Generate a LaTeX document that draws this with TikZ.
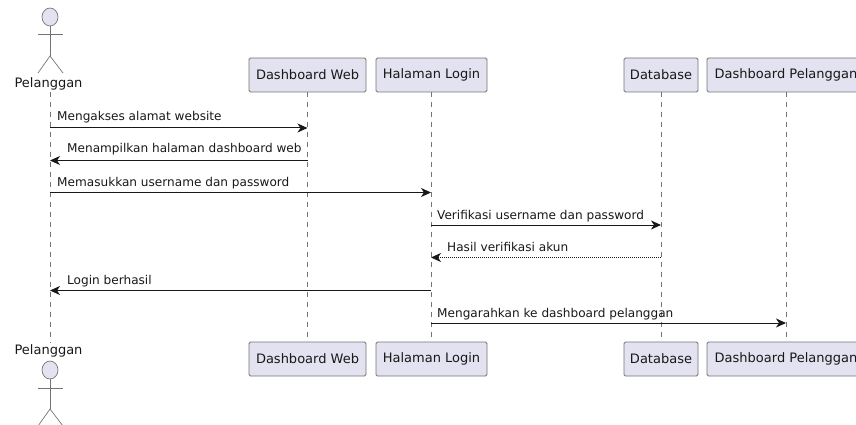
\documentclass[tikz,border=0pt]{standalone}
\usepackage{fontspec}
\setmainfont{DejaVu Sans}
\usetikzlibrary{arrows.meta, shapes.geometric}
\definecolor{umlfill}{RGB}{226, 226, 240}
\definecolor{umlline}{RGB}{24, 24, 24}
\tikzset{
    partbox/.style={draw=umlline!60, fill=umlfill, rounded corners=1.5pt, line width=0.8pt, minimum height=34pt, inner xsep=0pt, inner ysep=0pt},
    lifeline/.style={draw=umlline!60, dash pattern=on 5pt off 5pt, line width=0.7pt},
    msg/.style={-{Stealth[length=10pt, width=9pt, inset=3pt]}, draw=umlline, line width=1pt},
    reply/.style={msg, densely dotted},
    msgtext/.style={text=umlline, font=\fontsize{12.1}{14}\selectfont, anchor=base west, inner sep=0pt},
    acttext/.style={text=umlline, font=\fontsize{13}{15}\selectfont, inner sep=0pt},
    limb/.style={draw=umlline!60, line width=0.7pt},
    actorhead/.style={draw=umlline!60, fill=umlfill, ellipse, minimum width=16pt, minimum height=18pt, inner sep=0pt, line width=0.7pt}
}
\begin{document}
\begin{tikzpicture}[x=1pt, y=-1pt]
    \useasboundingbox (0,0) rectangle (856,425);
    \clip (0,0) rectangle (856,425);

    % Lifeline ends
    \coordinate (pelS) at (50, 92);
    \coordinate (pelE) at (50, 343);
    \draw[lifeline] (pelS) -- (pelE);

    % Participant boxes, top and bottom
    \foreach \name/\cx/\boxw/\word in {dweb/307.5/117/Dashboard Web, hlogin/431.5/111/Halaman Login, db/661/74/Database, dpel/786/158/Dashboard Pelanggan} {
        \node[partbox, minimum width=\boxw pt, acttext] (\name T) at (\cx, 75) {\word};
        \node[partbox, minimum width=\boxw pt, acttext] (\name B) at (\cx, 359) {\word};
        \draw[lifeline] (\name T.south) -- (\name B.north);
    }

    % Actor labels
    \node[acttext] (pelT) at (48.5, 84) {Pelanggan};
    \node[acttext] (pelB) at (48.5, 351) {Pelanggan};

    % Top actor
    \node[actorhead] (headT) at (50, 17) {};
    \coordinate (hipT) at (50, 56);
    \coordinate (armTl) at (38, 34);
    \coordinate (armTr) at (63, 34);
    \coordinate (footTl) at (38, 73);
    \coordinate (footTr) at (63, 73);
    \draw[limb] (headT) -- (hipT);
    \draw[limb] (armTl) -- (armTr);
    \draw[limb] (footTl) -- (hipT) -- (footTr);

    % Bottom actor
    \node[actorhead] (headB) at (50, 370) {};
    \coordinate (hipB) at (50, 409);
    \coordinate (armBl) at (38, 388);
    \coordinate (armBr) at (63, 388);
    \coordinate (footBl) at (38, 426);
    \coordinate (footBr) at (63, 426);
    \draw[limb] (headB) -- (hipB);
    \draw[limb] (armBl) -- (armBr);
    \draw[limb] (footBl) -- (hipB) -- (footBr);

    % Message ends on each lifeline
    \foreach \lane/\cx in {pel/50, dweb/307.5, hlogin/431, db/661, dpel/786} {
        \foreach \row/\cy in {1/128, 2/160.5, 3/192.5, 4/225, 5/257.5, 6/290.5, 7/323} {
            \coordinate (\lane\row) at (\cx, \cy);
        }
    }

    % Messages
    \draw[msg] (pel1) -- (dweb1);
    \draw[msg] (dweb2) -- (pel2);
    \draw[msg] (pel3) -- (hlogin3);
    \draw[msg] (hlogin4) -- (db4);
    \draw[reply] (db5) -- (hlogin5);
    \draw[msg] (hlogin6) -- (pel6);
    \draw[msg] (hlogin7) -- (dpel7);

    % Message labels
    \node[msgtext] (lab1) at (57, 120.5) {Mengakses alamat website};
    \node[msgtext] (lab2) at (67, 153) {Menampilkan halaman dashboard web};
    \node[msgtext] (lab3) at (57, 186.5) {Memasukkan username dan password};
    \node[msgtext] (lab4) at (437, 219.5) {Verifikasi username dan password};
    \node[msgtext] (lab5) at (447, 251.5) {Hasil verifikasi akun};
    \node[msgtext] (lab6) at (67, 284.5) {Login berhasil};
    \node[msgtext] (lab7) at (437, 317.5) {Mengarahkan ke dashboard pelanggan};
\end{tikzpicture}
\end{document}
